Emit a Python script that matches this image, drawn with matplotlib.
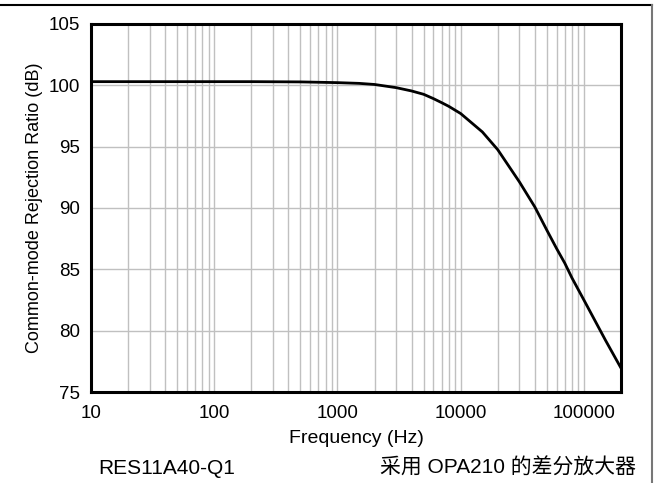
import matplotlib
matplotlib.use("Agg")
import matplotlib.pyplot as plt
from matplotlib.lines import Line2D
from matplotlib.ticker import FixedLocator, NullFormatter, NullLocator

plt.rcParams['font.family'] = ['Liberation Sans', 'Noto Sans CJK SC', 'DejaVu Sans']

freq = [10, 20, 50, 100, 200, 500, 1000, 1500, 2000, 3000, 4000, 5000, 6000, 7000,
        8000, 10000, 15000, 20000, 30000, 40000, 50000, 60000, 70000, 80000,
        100000, 150000, 200000]
cmrr = [100.3, 100.3, 100.3, 100.3, 100.3, 100.28, 100.22, 100.16, 100.07, 99.81, 99.54,
        99.27, 98.92, 98.59, 98.29, 97.7, 96.2, 94.75, 92.12, 90.08, 88.2,
        86.7, 85.5, 84.3, 82.5, 79.2, 76.95]

x_ticks = [10, 100, 1000, 10000, 100000]
x_ticklabels = ['10', '100', '1000', '10000', '100000']
y_ticks = [75, 80, 85, 90, 95, 100, 105]

W, H = 654, 483
fig = plt.figure(figsize=(W / 100, H / 100), dpi=100)
ax = fig.add_axes([91 / W, 1 - 392 / H, (621 - 91) / W, (392 - 24) / H])

ax.set_xscale('log')
ax.set_xlim(10, 200000)
ax.set_ylim(75, 105)

minor = [m * 10 ** d for d in range(1, 6) for m in range(2, 10) if m * 10 ** d < 200000]
ax.xaxis.set_major_locator(FixedLocator(x_ticks))
ax.xaxis.set_minor_locator(FixedLocator(minor))
ax.xaxis.set_minor_formatter(NullFormatter())
ax.set_xticklabels(x_ticklabels)
ax.set_yticks(y_ticks)
ax.yaxis.set_minor_locator(NullLocator())

ax.grid(True, which='both', axis='x', color='#c0c0c0', linewidth=1.0)
ax.grid(True, which='major', axis='y', color='#c0c0c0', linewidth=1.0)
ax.set_axisbelow(True)

ax.plot(freq, cmrr, color='black', linewidth=2.0, solid_joinstyle='round',
        solid_capstyle='round')

for s in ax.spines.values():
    s.set_linewidth(2.2)
    s.set_color('black')

ax.tick_params(which='both', length=0, labelsize=13.5, colors='black')
ax.tick_params(axis='x', pad=9)
ax.tick_params(axis='y', pad=8)
ax.set_xlabel('Frequency (Hz)', fontsize=14, labelpad=6)
ax.set_ylabel('Common-mode Rejection Ratio (dB)', fontsize=13, labelpad=4)

fig.text(167 / W, 1 - 468 / H, 'RES11A40-Q1', fontsize=15, ha='center', va='center')
fig.text(508 / W, 1 - 468 / H, '采用 OPA210 的差分放大器', fontsize=15, ha='center', va='center')

fig.add_artist(Line2D([0, 652 / W], [1 - 5 / H, 1 - 5 / H], transform=fig.transFigure,
                      color='black', linewidth=1.5))
fig.add_artist(Line2D([652 / W, 652 / W], [1 - 5 / H, 0], transform=fig.transFigure,
                      color='#777777', linewidth=1.5))

fig.savefig('out.png', dpi=100)
